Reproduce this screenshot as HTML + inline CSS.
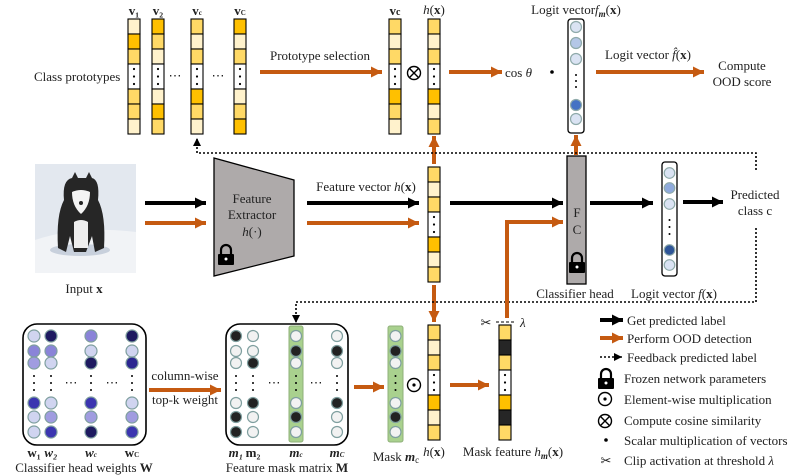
<!DOCTYPE html>
<html><head><meta charset="utf-8"><style>
html,body{margin:0;padding:0;background:#fff}
svg{display:block}
text{font-family:"Liberation Serif",serif;font-size:13px;fill:#222}
</style></head><body>
<svg width="806" height="476" viewBox="0 0 806 476" xmlns="http://www.w3.org/2000/svg">
<defs>
<marker id="ab" viewBox="0 0 10 10" refX="10" refY="5" markerWidth="11" markerHeight="11" markerUnits="userSpaceOnUse" orient="auto"><path d="M0,0L10,5L0,10z" fill="#000"/></marker>
<marker id="ao" viewBox="0 0 10 10" refX="10" refY="5" markerWidth="11" markerHeight="11" markerUnits="userSpaceOnUse" orient="auto"><path d="M0,0L10,5L0,10z" fill="#C55A11"/></marker>
<marker id="ad" viewBox="0 0 10 10" refX="10" refY="5" markerWidth="8" markerHeight="8" markerUnits="userSpaceOnUse" orient="auto"><path d="M0,0L10,5L0,10z" fill="#000"/></marker>
<g id="dots3"><circle cx="6" cy="69" r="1.1" fill="#000"/><circle cx="6" cy="76.5" r="1.1" fill="#000"/><circle cx="6" cy="84" r="1.1" fill="#000"/></g>
<g id="lock"><path d="M-5,0 V-4 a5,5 0 0 1 10,0 V0" fill="none" stroke="#000" stroke-width="2.2"/><rect x="-8" y="0" width="16" height="11" rx="1" fill="#000"/><circle cx="0" cy="5" r="1.5" fill="#fff"/></g>
</defs>

<!-- ===== Top: class prototypes ===== -->
<text x="34" y="81">Class prototypes</text>
<g stroke="#000" stroke-width="1.1">
<g transform="translate(128,19)"><rect width="12" height="15" fill="#FFF2CC"/><rect y="15" width="12" height="15" fill="#FFC000"/><rect y="30" width="12" height="15" fill="#FFD966"/><rect y="45" width="12" height="25" fill="#fff"/><rect y="70" width="12" height="15" fill="#FFD966"/><rect y="85" width="12" height="15" fill="#FFD966"/><rect y="100" width="12" height="15" fill="#FFF2CC"/></g>
<g transform="translate(152,19)"><rect width="12" height="15" fill="#FFC000"/><rect y="15" width="12" height="15" fill="#FFD966"/><rect y="30" width="12" height="15" fill="#FFF2CC"/><rect y="45" width="12" height="25" fill="#fff"/><rect y="70" width="12" height="15" fill="#FFF2CC"/><rect y="85" width="12" height="15" fill="#FFC000"/><rect y="100" width="12" height="15" fill="#FFD966"/></g>
<g transform="translate(191,19)"><rect width="12" height="15" fill="#FFD966"/><rect y="15" width="12" height="15" fill="#FFF2CC"/><rect y="30" width="12" height="15" fill="#FFD966"/><rect y="45" width="12" height="25" fill="#fff"/><rect y="70" width="12" height="15" fill="#FFC000"/><rect y="85" width="12" height="15" fill="#FFD966"/><rect y="100" width="12" height="15" fill="#FFF2CC"/></g>
<g transform="translate(234,19)"><rect width="12" height="15" fill="#FFC000"/><rect y="15" width="12" height="15" fill="#FFF2CC"/><rect y="30" width="12" height="15" fill="#FFD966"/><rect y="45" width="12" height="25" fill="#fff"/><rect y="70" width="12" height="15" fill="#FFF2CC"/><rect y="85" width="12" height="15" fill="#FFD966"/><rect y="100" width="12" height="15" fill="#FFC000"/></g>
<!-- selected vc -->
<g transform="translate(389,19)"><rect width="12" height="15" fill="#FFD966"/><rect y="15" width="12" height="15" fill="#FFF2CC"/><rect y="30" width="12" height="15" fill="#FFD966"/><rect y="45" width="12" height="25" fill="#fff"/><rect y="70" width="12" height="15" fill="#FFC000"/><rect y="85" width="12" height="15" fill="#FFD966"/><rect y="100" width="12" height="15" fill="#FFF2CC"/></g>
<!-- h(x) top -->
<g transform="translate(428,19)"><rect width="12" height="15" fill="#FFD966"/><rect y="15" width="12" height="15" fill="#FFF2CC"/><rect y="30" width="12" height="15" fill="#FFD966"/><rect y="45" width="12" height="25" fill="#fff"/><rect y="70" width="12" height="15" fill="#FFC000"/><rect y="85" width="12" height="15" fill="#FFF2CC"/><rect y="100" width="12" height="15" fill="#FFD966"/></g>
<!-- h(x) middle -->
<g transform="translate(428,167)"><rect width="12" height="15" fill="#FFD966"/><rect y="15" width="12" height="15" fill="#FFF2CC"/><rect y="30" width="12" height="15" fill="#FFD966"/><rect y="45" width="12" height="25" fill="#fff"/><rect y="70" width="12" height="15" fill="#FFC000"/><rect y="85" width="12" height="15" fill="#FFF2CC"/><rect y="100" width="12" height="15" fill="#FFD966"/></g>
<!-- h(x) bottom -->
<g transform="translate(428,325)"><rect width="12" height="15" fill="#FFD966"/><rect y="15" width="12" height="15" fill="#FFF2CC"/><rect y="30" width="12" height="15" fill="#FFD966"/><rect y="45" width="12" height="25" fill="#fff"/><rect y="70" width="12" height="15" fill="#FFC000"/><rect y="85" width="12" height="15" fill="#FFF2CC"/><rect y="100" width="12" height="15" fill="#FFD966"/></g>
<!-- mask feature -->
<g transform="translate(499,325)"><rect width="12" height="15" fill="#FFD966"/><rect y="15" width="12" height="15" fill="#262626"/><rect y="30" width="12" height="15" fill="#FFD966"/><rect y="45" width="12" height="25" fill="#fff"/><rect y="70" width="12" height="15" fill="#FFC000"/><rect y="85" width="12" height="15" fill="#262626"/><rect y="100" width="12" height="15" fill="#FFD966"/></g>
</g>
<g>
<use href="#dots3" transform="translate(128,0)"/><use href="#dots3" transform="translate(152,0)"/><use href="#dots3" transform="translate(191,0)"/><use href="#dots3" transform="translate(234,0)"/>
<use href="#dots3" transform="translate(389,0)"/><use href="#dots3" transform="translate(428,0)"/>
<use href="#dots3" transform="translate(428,148)"/><use href="#dots3" transform="translate(428,306)"/><use href="#dots3" transform="translate(499,306)"/>
</g>
<text x="175" y="80" text-anchor="middle">⋯</text><text x="218" y="80" text-anchor="middle">⋯</text>
<text x="134" y="15" text-anchor="middle" font-size="9" font-weight="bold">v₁</text>
<text x="158" y="15" text-anchor="middle" font-size="9" font-weight="bold">v₂</text>
<text x="197" y="15" text-anchor="middle" font-size="9" font-weight="bold">v<tspan font-size="7">c</tspan></text>
<text x="240" y="15" text-anchor="middle" font-size="9" font-weight="bold">v<tspan font-size="7">C</tspan></text>
<text x="395" y="15" text-anchor="middle" font-size="13" font-weight="bold">v<tspan font-size="10">c</tspan></text>
<text x="434" y="14" text-anchor="middle"><tspan font-style="italic">h</tspan>(<tspan font-weight="bold">x</tspan>)</text>

<line x1="260" y1="72" x2="382" y2="72" stroke="#C55A11" stroke-width="4" marker-end="url(#ao)"/>
<text x="320" y="60" text-anchor="middle">Prototype selection</text>
<circle cx="414" cy="73" r="6.5" fill="none" stroke="#000" stroke-width="1.4"/><path d="M409.4,68.4L418.6,77.6M418.6,68.4L409.4,77.6" stroke="#000" stroke-width="1.4"/>
<line x1="449" y1="72" x2="502" y2="72" stroke="#C55A11" stroke-width="4" marker-end="url(#ao)"/>
<text x="505" y="77">cos <tspan font-style="italic">θ</tspan></text>
<circle cx="552" cy="72" r="1.8" fill="#000"/>

<!-- Logit fm -->
<rect x="568" y="19" width="16" height="114" rx="3" fill="#fff" stroke="#000" stroke-width="1.3"/>
<g stroke="#8faaaa" stroke-width="1.2">
<circle cx="576" cy="27" r="5.5" fill="#dae3f3"/><circle cx="576" cy="43" r="5.5" fill="#b4c7e7"/><circle cx="576" cy="59" r="5.5" fill="#dae3f3"/><circle cx="576" cy="105" r="5.5" fill="#4472c4"/><circle cx="576" cy="119" r="5.5" fill="#dae3f3"/>
</g>
<circle cx="576" cy="75" r="1" fill="#000"/><circle cx="576" cy="81" r="1" fill="#000"/><circle cx="576" cy="87" r="1" fill="#000"/>
<text x="576" y="14" text-anchor="middle">Logit vector<tspan font-style="italic">f</tspan><tspan font-size="9" font-weight="bold" font-style="italic" dy="3">m</tspan><tspan dy="-3">(</tspan><tspan font-weight="bold">x</tspan>)</text>
<line x1="596" y1="72" x2="704" y2="72" stroke="#C55A11" stroke-width="4" marker-end="url(#ao)"/>
<text x="648" y="59" text-anchor="middle">Logit vector <tspan font-style="italic">f̂</tspan>(<tspan font-weight="bold">x</tspan>)</text>
<text x="742" y="70" text-anchor="middle">Compute</text><text x="742" y="86" text-anchor="middle">OOD score</text>

<!-- ===== Middle ===== -->
<rect x="35" y="164" width="101" height="109" fill="#e3e8ef"/>
<path d="M35,240 Q80,225 136,232 V273 H35z" fill="#f1f3f6"/>
<ellipse cx="80" cy="250" rx="30" ry="6" fill="#c8d0dc"/>
<path d="M64,200 Q62,180 72,178 L75,172 L78,178 Q83,178 86,178 L89,172 L92,178 Q100,180 98,200 Q106,215 104,248 L95,252 L92,236 L86,252 L74,252 L70,236 L66,252 L58,248 Q56,215 64,200z" fill="#262626"/>
<path d="M72,192 Q81,188 90,192 Q90,206 81,214 Q72,206 72,192z" fill="#f4f4f4"/>
<path d="M74,222 Q81,218 88,222 L88,248 L74,248z" fill="#eeeeee"/>
<circle cx="81" cy="203" r="2" fill="#222"/>
<text x="84" y="293" text-anchor="middle">Input <tspan font-weight="bold">x</tspan></text>

<line x1="145" y1="203" x2="206" y2="203" stroke="#000" stroke-width="4" marker-end="url(#ab)"/>
<line x1="145" y1="223" x2="206" y2="223" stroke="#C55A11" stroke-width="4" marker-end="url(#ao)"/>
<path d="M214,158 L294,180 L294,256 L214,276z" fill="#aeaaaa" stroke="#000" stroke-width="1.3"/>
<text x="252" y="203" text-anchor="middle">Feature</text>
<text x="252" y="219" text-anchor="middle">Extractor</text>
<text x="252" y="236" text-anchor="middle"><tspan font-style="italic">h</tspan>(·)</text>
<use href="#lock" transform="translate(226,254)"/>

<text x="366" y="191" text-anchor="middle">Feature vector <tspan font-style="italic">h</tspan>(<tspan font-weight="bold">x</tspan>)</text>
<line x1="307" y1="203" x2="419" y2="203" stroke="#000" stroke-width="4" marker-end="url(#ab)"/>
<line x1="307" y1="223" x2="419" y2="223" stroke="#C55A11" stroke-width="4" marker-end="url(#ao)"/>

<!-- vertical orange arrows -->
<line x1="434" y1="164" x2="434" y2="136" stroke="#C55A11" stroke-width="4" marker-end="url(#ao)"/>
<line x1="434" y1="285" x2="434" y2="322" stroke="#C55A11" stroke-width="4" marker-end="url(#ao)"/>
<line x1="576" y1="155" x2="576" y2="135" stroke="#C55A11" stroke-width="4" marker-end="url(#ao)"/>

<!-- dotted feedback -->
<path d="M756,170 V153 H197 V138" fill="none" stroke="#000" stroke-width="1.6" stroke-dasharray="2,2" marker-end="url(#ad)"/>
<path d="M756,228 V302 H296 V323" fill="none" stroke="#000" stroke-width="1.6" stroke-dasharray="2,2" marker-end="url(#ad)"/>

<line x1="450" y1="203" x2="563" y2="203" stroke="#000" stroke-width="4" marker-end="url(#ab)"/>
<path d="M507,318 V222 H563" fill="none" stroke="#C55A11" stroke-width="4" marker-end="url(#ao)"/>
<rect x="567" y="156" width="19" height="128" fill="#aeaaaa" stroke="#000" stroke-width="1.3"/>
<text x="577" y="217" text-anchor="middle">F</text><text x="577" y="234" text-anchor="middle">C</text>
<use href="#lock" transform="translate(577,262)"/>
<text x="575" y="298" text-anchor="middle">Classifier head</text>

<line x1="590" y1="203" x2="653" y2="203" stroke="#000" stroke-width="4" marker-end="url(#ab)"/>
<rect x="662" y="162" width="15" height="114" rx="3" fill="#fff" stroke="#000" stroke-width="1.3"/>
<g stroke="#8faaaa" stroke-width="1.2">
<circle cx="669.5" cy="173" r="5.3" fill="#dae3f3"/><circle cx="669.5" cy="188" r="5.3" fill="#8faadc"/><circle cx="669.5" cy="204" r="5.3" fill="#dae3f3"/><circle cx="669.5" cy="250" r="5.3" fill="#2f5597"/><circle cx="669.5" cy="265" r="5.3" fill="#dae3f3"/>
</g>
<circle cx="669.5" cy="220" r="1" fill="#000"/><circle cx="669.5" cy="227" r="1" fill="#000"/><circle cx="669.5" cy="234" r="1" fill="#000"/>
<text x="674" y="298" text-anchor="middle">Logit vector <tspan font-style="italic">f</tspan>(<tspan font-weight="bold">x</tspan>)</text>
<line x1="683" y1="202" x2="723" y2="202" stroke="#000" stroke-width="4" marker-end="url(#ab)"/>
<text x="755" y="199" text-anchor="middle">Predicted</text><text x="755" y="215" text-anchor="middle">class c</text>

<!-- ===== Bottom ===== -->
<rect x="23" y="324" width="123" height="121" rx="14" fill="#fff" stroke="#000" stroke-width="1.6"/>
<g stroke="#7f9f9f" stroke-width="1.2">
<circle cx="34" cy="336" r="6" fill="#d0d4f0"/><circle cx="34" cy="351" r="6" fill="#8a84d8"/><circle cx="34" cy="363" r="6" fill="#a09ce0"/><circle cx="34" cy="403" r="6" fill="#3b35b0"/><circle cx="34" cy="417" r="6" fill="#d0d4f0"/><circle cx="34" cy="432" r="6" fill="#d0d4f0"/>
<circle cx="51" cy="336" r="6" fill="#1e1a60"/><circle cx="51" cy="351" r="6" fill="#8a84d8"/><circle cx="51" cy="363" r="6" fill="#d0d4f0"/><circle cx="51" cy="403" r="6" fill="#d0d4f0"/><circle cx="51" cy="417" r="6" fill="#a09ce0"/><circle cx="51" cy="432" r="6" fill="#3b35b0"/>
<circle cx="91" cy="336" r="6" fill="#8a84d8"/><circle cx="91" cy="351" r="6" fill="#d0d4f0"/><circle cx="91" cy="363" r="6" fill="#1e1a60"/><circle cx="91" cy="403" r="6" fill="#3b35b0"/><circle cx="91" cy="417" r="6" fill="#a09ce0"/><circle cx="91" cy="432" r="6" fill="#1e1a60"/>
<circle cx="132" cy="336" r="6" fill="#1e1a60"/><circle cx="132" cy="351" r="6" fill="#d0d4f0"/><circle cx="132" cy="363" r="6" fill="#2b2690"/><circle cx="132" cy="403" r="6" fill="#d0d4f0"/><circle cx="132" cy="417" r="6" fill="#a09ce0"/><circle cx="132" cy="432" r="6" fill="#3b35b0"/>
</g>
<g fill="#000">
<circle cx="34" cy="376" r="1" /><circle cx="34" cy="383" r="1"/><circle cx="34" cy="390" r="1"/>
<circle cx="51" cy="376" r="1" /><circle cx="51" cy="383" r="1"/><circle cx="51" cy="390" r="1"/>
<circle cx="91" cy="376" r="1" /><circle cx="91" cy="383" r="1"/><circle cx="91" cy="390" r="1"/>
<circle cx="132" cy="376" r="1" /><circle cx="132" cy="383" r="1"/><circle cx="132" cy="390" r="1"/>
</g>
<text x="71" y="387" text-anchor="middle">⋯</text><text x="112" y="387" text-anchor="middle">⋯</text>
<g font-size="9" font-weight="bold" text-anchor="middle">
<text x="34" y="457" font-size="9">w₁</text><text x="51" y="457" font-size="9" font-style="italic">w₂</text><text x="91" y="457" font-size="9" font-style="italic">w<tspan font-size="7">c</tspan></text><text x="132" y="457" font-size="9">w<tspan font-size="7">C</tspan></text>
</g>
<text x="84" y="472" text-anchor="middle">Classifier head weights <tspan font-weight="bold">W</tspan></text>

<line x1="149" y1="390" x2="221" y2="390" stroke="#C55A11" stroke-width="4" marker-end="url(#ao)"/>
<text x="185" y="380" text-anchor="middle">column-wise</text>
<text x="185" y="404" text-anchor="middle">top-k weight</text>

<rect x="226" y="324" width="122" height="121" rx="14" fill="#fff" stroke="#000" stroke-width="1.6"/>
<rect x="289" y="326" width="14" height="116" rx="2" fill="#a9d18e" stroke="#8fb07a" stroke-width="1"/>
<rect x="388" y="326" width="15" height="116" rx="2" fill="#a9d18e" stroke="#8fb07a" stroke-width="1"/>
<g stroke="#7f9f9f" stroke-width="1.2">
<circle cx="236" cy="336" r="5.5" fill="#222"/><circle cx="236" cy="351" r="5.5" fill="#f2f2f2"/><circle cx="236" cy="363" r="5.5" fill="#f2f2f2"/><circle cx="236" cy="403" r="5.5" fill="#f2f2f2"/><circle cx="236" cy="417" r="5.5" fill="#222"/><circle cx="236" cy="432" r="5.5" fill="#222"/>
<circle cx="253" cy="336" r="5.5" fill="#f2f2f2"/><circle cx="253" cy="351" r="5.5" fill="#f2f2f2"/><circle cx="253" cy="363" r="5.5" fill="#222"/><circle cx="253" cy="403" r="5.5" fill="#222"/><circle cx="253" cy="417" r="5.5" fill="#f2f2f2"/><circle cx="253" cy="432" r="5.5" fill="#f2f2f2"/>
<circle cx="296" cy="336" r="5.5" fill="#f2f2f2"/><circle cx="296" cy="351" r="5.5" fill="#222"/><circle cx="296" cy="363" r="5.5" fill="#f2f2f2"/><circle cx="296" cy="403" r="5.5" fill="#f2f2f2"/><circle cx="296" cy="417" r="5.5" fill="#222"/><circle cx="296" cy="432" r="5.5" fill="#f2f2f2"/>
<circle cx="337" cy="336" r="5.5" fill="#f2f2f2"/><circle cx="337" cy="351" r="5.5" fill="#222"/><circle cx="337" cy="363" r="5.5" fill="#f2f2f2"/><circle cx="337" cy="403" r="5.5" fill="#222"/><circle cx="337" cy="417" r="5.5" fill="#f2f2f2"/><circle cx="337" cy="432" r="5.5" fill="#f2f2f2"/>
<circle cx="395.5" cy="336" r="5.5" fill="#f2f2f2"/><circle cx="395.5" cy="351" r="5.5" fill="#222"/><circle cx="395.5" cy="363" r="5.5" fill="#f2f2f2"/><circle cx="395.5" cy="403" r="5.5" fill="#f2f2f2"/><circle cx="395.5" cy="417" r="5.5" fill="#222"/><circle cx="395.5" cy="432" r="5.5" fill="#f2f2f2"/>
</g>
<g fill="#000">
<circle cx="236" cy="376" r="1"/><circle cx="236" cy="383" r="1"/><circle cx="236" cy="390" r="1"/>
<circle cx="253" cy="376" r="1"/><circle cx="253" cy="383" r="1"/><circle cx="253" cy="390" r="1"/>
<circle cx="296" cy="376" r="1"/><circle cx="296" cy="383" r="1"/><circle cx="296" cy="390" r="1"/>
<circle cx="337" cy="376" r="1"/><circle cx="337" cy="383" r="1"/><circle cx="337" cy="390" r="1"/>
<circle cx="395.5" cy="376" r="1"/><circle cx="395.5" cy="383" r="1"/><circle cx="395.5" cy="390" r="1"/>
</g>
<text x="274" y="387" text-anchor="middle">⋯</text><text x="316" y="387" text-anchor="middle">⋯</text>
<g font-size="9" font-weight="bold" font-style="italic" text-anchor="middle">
<text x="236" y="457" font-size="9">m₁</text><text x="253" y="457" font-size="9" font-style="normal">m₂</text><text x="296" y="457" font-size="9">m<tspan font-size="7">c</tspan></text><text x="337" y="457" font-size="9">m<tspan font-size="7">C</tspan></text>
</g>
<text x="287" y="472" text-anchor="middle">Feature mask matrix <tspan font-weight="bold">M</tspan></text>

<line x1="354" y1="387" x2="384" y2="387" stroke="#C55A11" stroke-width="4" marker-end="url(#ao)"/>
<text x="396" y="461" text-anchor="middle">Mask <tspan font-weight="bold" font-style="italic">m</tspan><tspan font-size="9" dy="2">c</tspan></text>
<circle cx="414" cy="385" r="6.5" fill="none" stroke="#000" stroke-width="1.4"/><circle cx="414" cy="385" r="1.6" fill="#000"/>
<text x="434" y="456" text-anchor="middle"><tspan font-style="italic">h</tspan>(<tspan font-weight="bold">x</tspan>)</text>
<line x1="450" y1="385" x2="489" y2="385" stroke="#C55A11" stroke-width="4" marker-end="url(#ao)"/>
<text x="513" y="456" text-anchor="middle">Mask feature <tspan font-style="italic">h</tspan><tspan font-size="9" font-weight="bold" font-style="italic" dy="3">m</tspan><tspan dy="-3">(</tspan><tspan font-weight="bold">x</tspan>)</text>
<text x="486" y="327" text-anchor="middle" font-family="DejaVu Sans" font-size="14" fill="#000">✂</text>
<line x1="496" y1="322" x2="516" y2="322" stroke="#000" stroke-width="1" stroke-dasharray="3,2"/>
<text x="520" y="327" font-style="italic">λ</text>

<!-- Legend -->
<line x1="600" y1="320" x2="623" y2="320" stroke="#000" stroke-width="4" marker-end="url(#ab)"/>
<text x="627" y="325">Get predicted label</text>
<line x1="600" y1="338" x2="623" y2="338" stroke="#C55A11" stroke-width="4" marker-end="url(#ao)"/>
<text x="627" y="343">Perform OOD detection</text>
<line x1="600" y1="357" x2="622" y2="357" stroke="#000" stroke-width="1.6" stroke-dasharray="2,2" marker-end="url(#ad)"/>
<text x="627" y="362">Feedback predicted label</text>
<use href="#lock" transform="translate(606,378)"/>
<text x="624" y="383">Frozen network parameters</text>
<circle cx="605" cy="399" r="6.5" fill="none" stroke="#000" stroke-width="1.4"/><circle cx="605" cy="399" r="1.6" fill="#000"/>
<text x="624" y="404">Element-wise multiplication</text>
<circle cx="605" cy="421" r="6.5" fill="none" stroke="#000" stroke-width="1.4"/><path d="M600.4,416.4L609.6,425.6M609.6,416.4L600.4,425.6" stroke="#000" stroke-width="1.4"/>
<text x="624" y="425">Compute cosine similarity</text>
<circle cx="606" cy="440" r="1.8" fill="#000"/>
<text x="624" y="445">Scalar multiplication of vectors</text>
<text x="606" y="465" text-anchor="middle" font-family="DejaVu Sans" font-size="14" fill="#000">✂</text>
<text x="624" y="465">Clip activation at threshold <tspan font-style="italic">λ</tspan></text>
</svg>
</body></html>
